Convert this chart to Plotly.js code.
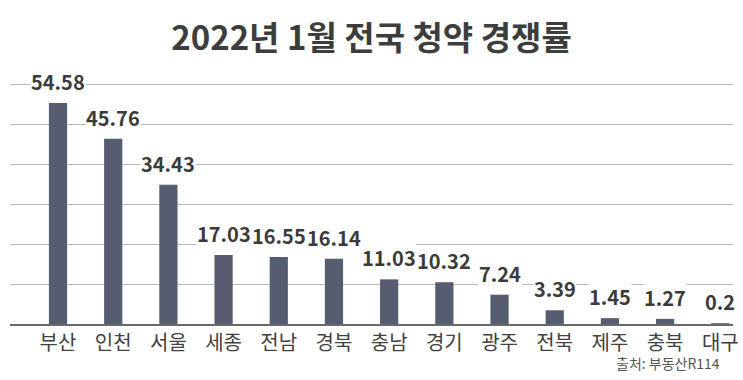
<!DOCTYPE html>
<html>
<head>
<meta charset="utf-8">
<script src="https://cdn.plot.ly/plotly-3.0.1.min.js"></script>
<style>html,body{margin:0;padding:0;background:#fff;}#chart{width:743px;height:380px;}</style>
</head>
<body>
<div id="chart"></div>
<script>
var regions = ['부산','인천','서울','세종','전남','경북','충남','경기','광주','전북','제주','충북','대구'];
var rates = [54.58, 45.76, 34.43, 17.03, 16.55, 16.14, 11.03, 10.32, 7.24, 3.39, 1.45, 1.27, 0.2];
var rateLabels = ['54.58','45.76','34.43','17.03','16.55','16.14','11.03','10.32','7.24','3.39','1.45','1.27','0.2'];

var FONT = '"Noto Sans CJK KR", "Noto Sans", sans-serif';

var annotations = regions.map(function(r, i){
  return {
    x: r, y: rates[i], xref: 'x', yref: 'y',
    text: '<b>' + rateLabels[i] + '</b>',
    showarrow: false, yanchor: 'bottom', yshift: 6,
    bgcolor: '#ffffff', borderpad: 0,
    font: {family: FONT, size: 20, color: '#3b3b3b'}
  };
});
annotations.push({
  xref: 'paper', yref: 'paper', x: 1-11/723, y: 0, yanchor: 'top', xanchor: 'right',
  yshift: -27, showarrow: false, text: '출처: 부동산R114',
  font: {family: FONT, size: 14, color: '#555555'}
});

var trace = {
  type: 'bar', x: regions, y: rates,
  marker: {color: '#575d70'},
  width: 0.33,
  hoverinfo: 'none'
};

var layout = {
  width: 743, height: 380,
  margin: {l: 10, r: 10, t: 83, b: 56, pad: 0},
  paper_bgcolor: '#ffffff', plot_bgcolor: '#ffffff',
  showlegend: false,
  title: {text: '<b>2022년 1월 전국 청약 경쟁률</b>', x: 0.5, xanchor: 'center', y: 0.9, yanchor: 'middle', yref: 'container',
          font: {family: FONT, size: 33, color: '#3d3d3d'}},
  xaxis: {
    type: 'category', range: [-0.87, 12.23],
    showline: true, linecolor: '#6a6a6a', linewidth: 1.5,
    showgrid: false, ticks: '', ticklen: 0,
    tickfont: {family: FONT, size: 20, color: '#414141'}
  },
  yaxis: {
    range: [0, 59.55], tick0: 0, dtick: 59.3/6,
    showgrid: true, gridcolor: '#b8b8b8', gridwidth: 1,
    showticklabels: false, zeroline: false, showline: false, ticks: ''
  },
  annotations: annotations
};

Plotly.newPlot('chart', [trace], layout, {displayModeBar: false, staticPlot: true});
</script>
</body>
</html>
